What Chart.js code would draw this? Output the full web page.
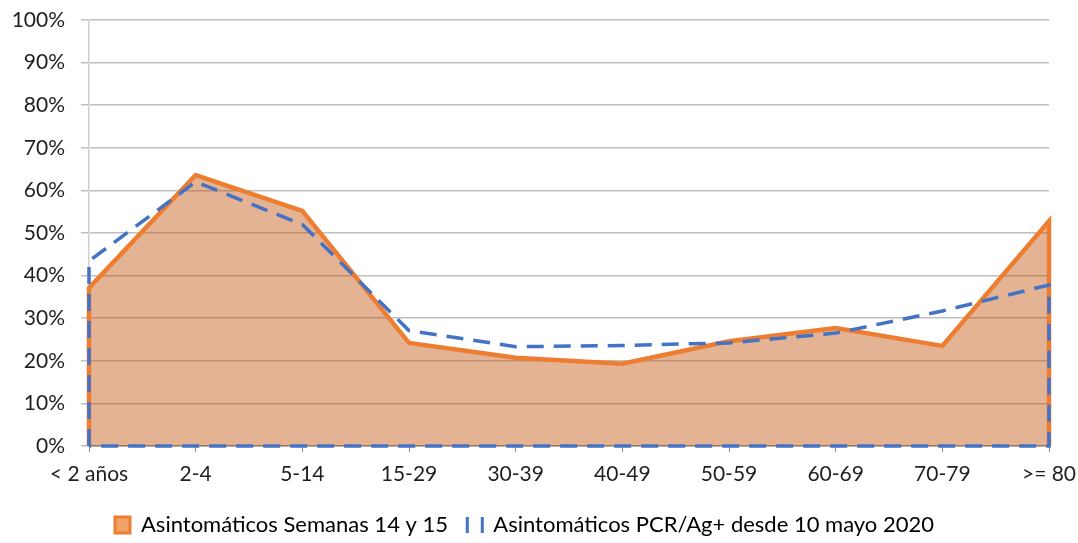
<!DOCTYPE html>
<html>
<head>
<meta charset="utf-8">
<script src="https://cdn.jsdelivr.net/npm/chart.js@4.4.1/dist/chart.umd.min.js"></script>
<style>
  html, body { margin: 0; padding: 0; background: #fff; }
  #wrap { width: 1078px; height: 543px; }
</style>
</head>
<body>
<div id="wrap"><canvas id="asintChart"></canvas></div>
<script>
const categories = ["< 2 años", "2-4", "5-14", "15-29", "30-39", "40-49", "50-59", "60-69", "70-79", ">= 80"];
const semanas14y15 = [37.1, 63.6, 55.2, 24.2, 20.7, 19.3, 24.6, 27.7, 23.5, 52.8];
const desdeMayo = [43.4, 62.0, 52.0, 27.1, 23.3, 23.6, 24.2, 26.5, 31.7, 37.8];
const yTicks = [0, 10, 20, 30, 40, 50, 60, 70, 80, 90, 100];

const colorOrange = "#ED7D31", colorBlue = "#4472C4", colorText = "#1f1f1f";
const fillOrange = "rgba(190, 75, 0, 0.42)";
const fontFamily = "Lato, 'Open Sans', sans-serif";

// Excel draws the area outline down both edges, so close the series at y = 0
const toArea = (values, closeBottom) => {
    const pts = [{ x: 0, y: 0 }];
    values.forEach((v, i) => pts.push({ x: i, y: v }));
    pts.push({ x: values.length - 1, y: 0 });
    if (closeBottom) pts.push({ x: 0, y: 0 });
    return pts;
};

const ctx = document.getElementById("asintChart").getContext("2d");

const asintChart = new Chart(ctx, {
    type: "line",
    data: {
        datasets: [
            {
                label: "Asintomáticos Semanas 14 y 15",
                data: toArea(semanas14y15, false),
                borderColor: colorOrange,
                backgroundColor: fillOrange,
                borderWidth: 4.5,
                fill: "origin",
                pointRadius: 0,
                tension: 0,
                order: 1,
                clip: 6,
            },
            {
                label: "Asintomáticos PCR/Ag+ desde 10 mayo 2020",
                data: toArea(desdeMayo, true),
                borderColor: colorBlue,
                backgroundColor: "transparent",
                borderWidth: 3.5,
                borderDash: [17, 10],
                fill: false,
                pointRadius: 0,
                tension: 0,
                order: 0,
                clip: 6,
            },
        ],
    },
    options: {
        responsive: true,
        maintainAspectRatio: false,
        animation: false,
        layout: { padding: { left: 0, right: 29, top: 20, bottom: -3 } },
        plugins: {
            tooltip: { enabled: false },
            legend: {
                position: "bottom",
                labels: {
                    color: colorText,
                    font: { size: 22, family: fontFamily },
                    boxWidth: 15,
                    boxHeight: 16,
                    padding: 8,
                    generateLabels: (chart) => [
                        {
                            text: chart.data.datasets[0].label + "  ",
                            fillStyle: "#F2A36A",
                            strokeStyle: colorOrange,
                            lineWidth: 3,
                            datasetIndex: 0,
                        },
                        {
                            text: chart.data.datasets[1].label,
                            fillStyle: "transparent",
                            strokeStyle: colorBlue,
                            lineWidth: 3,
                            // only the two vertical sides of the box
                            lineDash: [0, 15, 16, 15, 16, 0],
                            datasetIndex: 1,
                        },
                    ],
                },
            },
        },
        scales: {
            x: {
                type: "linear",
                min: 0,
                max: categories.length - 1,
                afterBuildTicks: (scale) => {
                    scale.ticks = categories.map((c, i) => ({ value: i }));
                },
                afterFit: (scale) => {
                    scale.height = 60;
                    scale.paddingRight = 0;
                },
                ticks: {
                    color: colorText,
                    font: { size: 21, family: fontFamily },
                    padding: 10,
                    maxRotation: 0,
                    autoSkip: false,
                    callback: (value) => categories[value],
                },
                grid: {
                    display: true,
                    drawOnChartArea: false,
                    drawTicks: true,
                    tickLength: 6,
                    color: "#8c8c8c",
                },
                border: { color: "#8c8c8c", width: 1.5 },
            },
            y: {
                min: 0,
                max: 100,
                afterBuildTicks: (scale) => {
                    scale.ticks = yTicks.map((v) => ({ value: v }));
                },
                afterFit: (scale) => {
                    scale.width = 89;
                    scale.paddingTop = 0;
                },
                ticks: {
                    color: colorText,
                    font: { size: 21, family: fontFamily },
                    padding: 16,
                    callback: (value) => value + "%",
                },
                grid: {
                    color: "#bfbfbf",
                    lineWidth: 1.5,
                    drawTicks: true,
                    tickLength: 8,
                },
                border: { color: "#d0d0d0", width: 1.5 },
            },
        },
    },
});
</script>
</body>
</html>
